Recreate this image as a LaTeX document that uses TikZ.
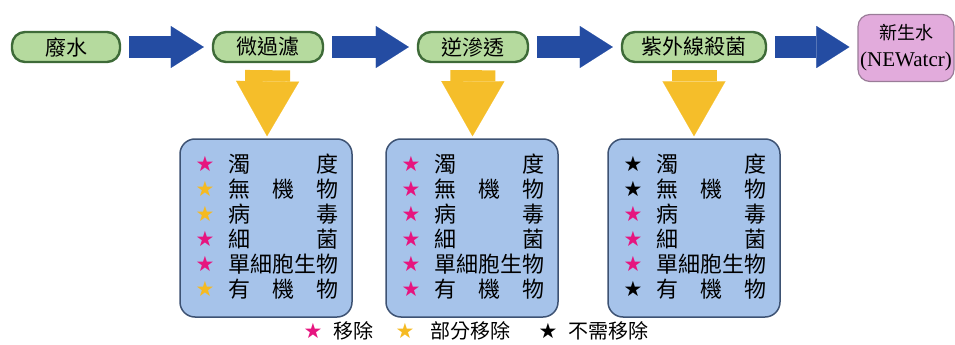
\documentclass[tikz,border=0pt]{standalone}
\usepackage{fontspec}
\setmainfont{Liberation Serif}
\newfontfamily\cjk{Noto Sans CJK TC}
\newfontfamily\symb{DejaVu Sans}
\usepackage{tikz}
\usetikzlibrary{arrows.meta}
\usetikzlibrary{positioning}

\definecolor{pillfill}{HTML}{B5DA9E}
\definecolor{pillline}{HTML}{3E6B38}
\definecolor{flowblue}{HTML}{244CA2}
\definecolor{dropyellow}{HTML}{F5BE2A}
\definecolor{boxfill}{HTML}{A6C3EA}
\definecolor{boxline}{HTML}{3D5273}
\definecolor{endfill}{HTML}{E2ABDC}
\definecolor{endline}{HTML}{9A7C98}
\definecolor{pk}{HTML}{E6157F}
\definecolor{yl}{HTML}{F5BA22}
\definecolor{bk}{HTML}{000000}

\tikzset{
  pill/.style={draw=pillline, fill=pillfill, line width=2.4pt, rounded corners=13pt,
    minimum height=30pt, inner sep=0pt, font=\cjk\fontsize{21}{21}\selectfont},
  endbox/.style={draw=endline, fill=endfill, line width=1.2pt, rounded corners=12pt,
    minimum width=96pt, minimum height=67pt, inner sep=0pt, align=center,
    font=\fontsize{21}{27}\selectfont},
  flow/.style={draw=flowblue, line width=22pt,
    -{Triangle[length=33pt,width=42pt,line width=0.1pt]}, shorten <=8pt, shorten >=8pt},
  drop/.style={draw=dropyellow, line width=45pt,
    -{Triangle[length=55pt,width=63pt,line width=0.1pt]}, shorten <=7pt, shorten >=2pt},
  listbox/.style={draw=boxline, fill=boxfill, line width=1.5pt, rounded corners=15pt,
    minimum width=172pt, minimum height=178pt},
  item/.style={anchor=west, inner sep=0pt, text width=110pt,
    font=\cjk\fontsize{22}{22}\selectfont},
  starmark/.style={inner sep=0pt, font=\symb\fontsize{21}{21}\selectfont},
  legend/.style={inner sep=0pt, font=\cjk\fontsize{20}{20}\selectfont}
}

\begin{document}
\begin{tikzpicture}[x=1pt, y=-1pt]
  \useasboundingbox (0,0) rectangle (955,345);

  % process line
  \node[pill, minimum width=108pt] (ww) at (66,47) {廢水};
  \node[pill, minimum width=110pt] (mf) at (268,47) {微過濾};
  \node[pill, minimum width=110pt] (ro) at (473,47) {逆滲透};
  \node[pill, minimum width=144pt] (uv) at (694,47) {紫外線殺菌};
  \node[endbox] (nw) at (906,48) {{\cjk\fontsize{18}{18}\selectfont 新生水}\\(NEWatcr)};
  \draw[flow] (ww) -- (mf);
  \draw[flow] (mf) -- (ro);
  \draw[flow] (ro) -- (uv);
  \draw[flow] (uv) -- (uv -| nw.west);

  % what each step takes out
  \node[listbox] (mfbox) at (266,228) {};
  \node[listbox] (robox) at (472,228) {};
  \node[listbox] (uvbox) at (694,228) {};
  \draw[drop] (mf) -- (mfbox);
  \draw[drop] (ro) -- (robox);
  \draw[drop] (uv) -- (uvbox);

  \foreach \t/\c [count=\i] in {{濁\hfill 度}/pk, {無\hfill 機\hfill 物}/yl,
      {病\hfill 毒}/yl, {細\hfill 菌}/pk, {單細胞生物}/pk, {有\hfill 機\hfill 物}/yl} {
    \node[starmark, text=\c] (mfs\i) at (205,{164+25*(\i-1)}) {★};
    \node[item] (mft\i) at (228,{164+25*(\i-1)}) {\t};
  }
  \foreach \t/\c [count=\i] in {{濁\hfill 度}/pk, {無\hfill 機\hfill 物}/pk,
      {病\hfill 毒}/pk, {細\hfill 菌}/pk, {單細胞生物}/pk, {有\hfill 機\hfill 物}/pk} {
    \node[starmark, text=\c] (ros\i) at (411,{164+25*(\i-1)}) {★};
    \node[item] (rot\i) at (434,{164+25*(\i-1)}) {\t};
  }
  \foreach \t/\c [count=\i] in {{濁\hfill 度}/bk, {無\hfill 機\hfill 物}/bk,
      {病\hfill 毒}/pk, {細\hfill 菌}/pk, {單細胞生物}/pk, {有\hfill 機\hfill 物}/bk} {
    \node[starmark, text=\c] (uvs\i) at (633,{164+25*(\i-1)}) {★};
    \node[item] (uvt\i) at (656,{164+25*(\i-1)}) {\t};
  }

  % legend
  \node[starmark, text=pk] (lg1) at (313,331) {★};
  \node[legend, right=11pt of lg1] (lgt1) {移除};
  \node[starmark, text=yl] (lg2) at (405,331) {★};
  \node[legend, right=16pt of lg2] (lgt2) {部分移除};
  \node[starmark, text=bk] (lg3) at (548,331) {★};
  \node[legend, right=11pt of lg3] (lgt3) {不需移除};
\end{tikzpicture}
\end{document}
